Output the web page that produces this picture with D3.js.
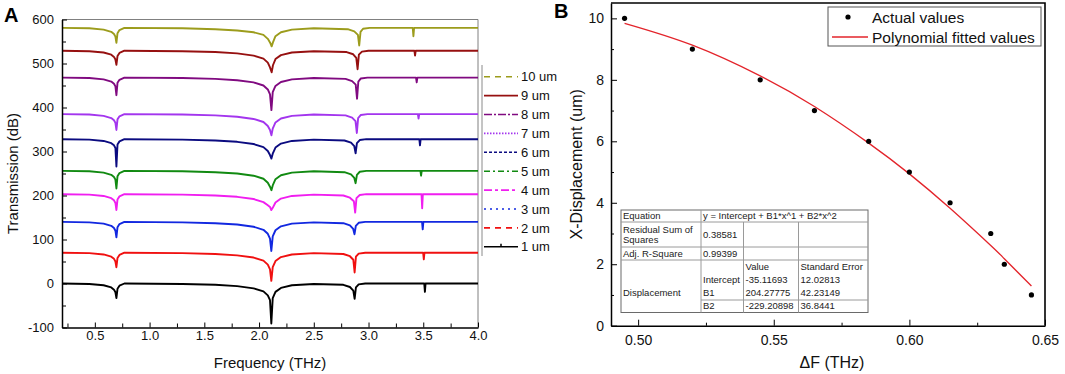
<!DOCTYPE html>
<html lang="en">
<head>
<meta charset="utf-8">
<title>Transmission spectra and X-displacement fit</title>
<script src="https://cdn.jsdelivr.net/npm/d3@7"></script>
<style>
  body { margin: 0; background: #fff; }
  svg { font-family: "Liberation Sans", Arial, sans-serif; }
</style>
</head>
<body>
<script>
// ---------- panel A data: transmission spectra, [frequency THz, dB] ----------
var um1 = [[0.20,0],[0.45,-1],[0.58,-4],[0.65,-9],[0.675,-14],[0.688,-20],[0.697,-33],[0.707,-12],[0.725,-5],[0.77,0],[1.30,-1],[1.60,-3],[1.80,-6],[1.95,-11],[2.04,-18],[2.08,-27],[2.10,-38],[2.112,-91],[2.125,-33],[2.15,-19],[2.20,-10],[2.30,-4],[2.50,-1],[2.77,-3],[2.83,-8],[2.861,-16],[2.873,-35],[2.885,-9],[2.91,-2],[2.97,0],[3.509,0],[3.515,-19],[3.521,0],[4.00,0]];
var um2 = [[0.20,70],[0.45,69],[0.58,66],[0.65,61],[0.675,56],[0.688,50],[0.697,37],[0.707,58],[0.725,65],[0.77,70],[1.30,69],[1.60,67],[1.80,64],[1.95,59],[2.04,52],[2.08,43],[2.10,32],[2.112,6],[2.125,37],[2.15,51],[2.20,60],[2.30,66],[2.50,69],[2.77,67],[2.83,62],[2.861,54],[2.873,25],[2.885,61],[2.91,68],[2.97,70],[3.499,70],[3.505,55],[3.511,70],[4.00,70]];
var um3 = [[0.20,140],[0.45,139],[0.58,136],[0.65,131],[0.675,126],[0.688,120],[0.697,105],[0.707,128],[0.725,135],[0.77,140],[1.30,139],[1.60,137],[1.80,134],[1.95,129],[2.04,122],[2.08,113],[2.10,102],[2.112,74],[2.125,107],[2.15,121],[2.20,130],[2.30,136],[2.50,139],[2.77,137],[2.83,132],[2.860,124],[2.872,112],[2.884,131],[2.91,138],[2.97,140],[3.489,140],[3.495,123],[3.501,140],[4.00,140]];
var um4 = [[0.20,203],[0.45,202],[0.58,199],[0.65,194],[0.675,189],[0.688,183],[0.697,167],[0.707,191],[0.725,198],[0.77,203],[1.30,202],[1.60,200],[1.80,197],[1.95,192],[2.04,185],[2.08,178],[2.10,174],[2.112,167],[2.125,172],[2.15,184],[2.20,193],[2.30,199],[2.50,202],[2.77,200],[2.83,195],[2.866,187],[2.878,161],[2.890,194],[2.92,201],[2.98,203],[3.484,203],[3.49,171],[3.496,203],[4.00,203]];
var um5 = [[0.20,256],[0.45,255],[0.58,252],[0.65,247],[0.675,242],[0.688,236],[0.697,216],[0.707,244],[0.725,251],[0.77,256],[1.30,255],[1.60,253],[1.80,250],[1.95,245],[2.04,238],[2.08,229],[2.10,220],[2.113,212],[2.125,223],[2.15,237],[2.20,246],[2.30,252],[2.50,255],[2.78,253],[2.84,248],[2.870,240],[2.882,228],[2.894,247],[2.92,254],[2.98,256],[3.474,256],[3.48,245],[3.486,256],[4.00,256]];
var um6 = [[0.20,328],[0.45,327],[0.58,324],[0.65,319],[0.675,314],[0.688,308],[0.697,266],[0.707,316],[0.725,323],[0.77,328],[1.30,327],[1.60,325],[1.80,322],[1.95,317],[2.04,310],[2.08,301],[2.10,292],[2.113,284],[2.125,295],[2.15,309],[2.20,318],[2.30,324],[2.50,327],[2.78,325],[2.84,320],[2.870,312],[2.882,296],[2.894,319],[2.92,326],[2.98,328],[3.464,328],[3.47,314],[3.476,328],[4.00,328]];
var um7 = [[0.20,385],[0.45,384],[0.58,381],[0.65,376],[0.675,371],[0.688,365],[0.697,349],[0.707,373],[0.725,380],[0.77,385],[1.30,384],[1.60,382],[1.80,379],[1.95,374],[2.04,367],[2.08,358],[2.10,349],[2.113,337],[2.125,352],[2.15,366],[2.20,375],[2.30,381],[2.50,384],[2.79,382],[2.85,377],[2.881,369],[2.893,342],[2.905,376],[2.93,383],[2.99,385],[3.451,385],[3.457,375],[3.463,385],[4.00,385]];
var um8 = [[0.20,468],[0.45,467],[0.58,464],[0.65,459],[0.675,454],[0.688,448],[0.697,428],[0.707,456],[0.725,463],[0.77,468],[1.30,467],[1.60,465],[1.80,462],[1.95,457],[2.04,450],[2.08,441],[2.10,430],[2.113,394],[2.125,435],[2.15,449],[2.20,458],[2.30,464],[2.50,467],[2.79,465],[2.85,460],[2.883,452],[2.895,420],[2.907,459],[2.93,466],[2.99,468],[3.434,468],[3.44,457],[3.446,468],[4.00,468]];
var um9 = [[0.20,529],[0.45,528],[0.58,525],[0.65,520],[0.675,515],[0.688,509],[0.697,497],[0.707,517],[0.725,524],[0.77,529],[1.30,528],[1.60,526],[1.80,523],[1.95,518],[2.04,511],[2.08,502],[2.10,491],[2.115,480],[2.127,496],[2.15,510],[2.20,519],[2.30,525],[2.50,528],[2.80,526],[2.86,521],[2.888,513],[2.900,487],[2.912,520],[2.94,527],[3.00,529],[3.419,529],[3.425,518],[3.431,529],[4.00,529]];
var um10 = [[0.20,581],[0.45,580],[0.58,577],[0.65,572],[0.675,567],[0.688,561],[0.697,547],[0.707,569],[0.725,576],[0.77,581],[1.30,580],[1.60,578],[1.80,575],[1.95,571],[2.04,565],[2.08,556],[2.10,548],[2.115,539],[2.127,548],[2.15,562],[2.20,571],[2.30,577],[2.50,580],[2.81,578],[2.87,573],[2.903,565],[2.915,541],[2.927,572],[2.95,579],[3.01,581],[3.404,581],[3.41,562],[3.416,581],[4.00,581]];

// legend order, top to bottom
var seriesNames = ["10 um", "9 um", "8 um", "7 um", "6 um", "5 um", "4 um", "3 um", "2 um", "1 um"];
var seriesData = [um10, um9, um8, um7, um6, um5, um4, um3, um2, um1];
var seriesColors = ["#9c9c1c", "#961010", "#800a80", "#a335ee", "#0b0b80", "#118a11", "#f01ef0", "#1228e0", "#f01010", "#000000"];
var seriesDash = ["6,5", null, "8,2,2,2", "1.5,1.5", "3,2", "6,3,2,3", "8,3,3,3", "2,4", "6,5", null];

var freqTicks = [0.5, 1.0, 1.5, 2.0, 2.5, 3.0, 3.5, 4.0];
var freqMinor = [0.25, 0.75, 1.25, 1.75, 2.25, 2.75, 3.25, 3.75];
var transTicks = [-100, 0, 100, 200, 300, 400, 500, 600];
var transMinor = [-50, 50, 150, 250, 350, 450, 550];

// ---------- panel B data ----------
var deltaF = [0.495, 0.520, 0.545, 0.565, 0.585, 0.600, 0.615, 0.630, 0.635, 0.645];
var xDisp = [10, 9, 8, 7, 6, 5, 4, 3, 2, 1];
var fittedDisp = [9.84, 9.13, 8.13, 7.13, 5.94, 4.94, 3.82, 2.61, 2.18, 1.29];

var dfTicks = [0.50, 0.55, 0.60, 0.65];
var dfMinor = [0.525, 0.575, 0.625];
var dispTicks = [0, 2, 4, 6, 8, 10];
var dispMinor = [1, 3, 5, 7, 9];

var fitTable = [
  ["Equation", "y = Intercept + B1*x^1 + B2*x^2", "", ""],
  ["Residual Sum of|Squares", "0.38581", "", ""],
  ["Adj. R-Square", "0.99399", "", ""],
  ["", "", "Value", "Standard Error"],
  ["", "Intercept", "-35.11693", "12.02813"],
  ["Displacement", "B1", "204.27775", "42.23149"],
  ["", "B2", "-229.20898", "36.8441"]
];

var W = 1065, H = 374;
var svg = d3.select("body").append("svg").attr("width", W).attr("height", H);

function styleAxis(g, fs) {
  g.attr("font-family", null).attr("font-size", fs);
  g.selectAll(".domain").attr("stroke", "#000").attr("stroke-width", 1.5);
  g.selectAll(".tick line").attr("stroke", "#000").attr("stroke-width", 1);
  g.selectAll(".tick text").attr("fill", "#111");
}

// ================= Panel A =================
var xA = d3.scaleLinear().domain([0.2, 4.0]).range([62, 478]);
var yA = d3.scaleLinear().domain([-100, 600]).range([327.5, 19.5]);

// top / right frame (grey)
svg.append("path")
  .attr("d", "M" + xA(0.2) + "," + yA(600) + "H" + xA(4.0) + "V" + yA(-100))
  .attr("fill", "none").attr("stroke", "#808080").attr("stroke-width", 1);

var lineA = d3.line().x(function(d) { return xA(d[0]); }).y(function(d) { return yA(d[1]); });

svg.append("g").selectAll("path")
  .data(seriesData)
  .enter().append("path")
  .attr("d", lineA)
  .attr("fill", "none")
  .attr("stroke", function(d, i) { return seriesColors[i]; })
  .attr("stroke-width", 1.9)
  .attr("stroke-linejoin", "round");

var gxA = svg.append("g").attr("transform", "translate(0," + yA(-100) + ")")
  .call(d3.axisBottom(xA).tickValues(freqTicks).tickFormat(d3.format(".1f")).tickSize(-5).tickSizeOuter(0).tickPadding(3));
styleAxis(gxA, 13);
var gxAm = svg.append("g").attr("transform", "translate(0," + yA(-100) + ")")
  .call(d3.axisBottom(xA).tickValues(freqMinor).tickFormat("").tickSize(-4).tickSizeOuter(0));
styleAxis(gxAm, 13);
gxAm.select(".domain").remove();

var gyA = svg.append("g").attr("transform", "translate(" + xA(0.2) + ",0)")
  .call(d3.axisLeft(yA).tickValues(transTicks).tickFormat(function(d) { return String(d); }).tickSize(-5).tickSizeOuter(0).tickPadding(8));
styleAxis(gyA, 13);
var gyAm = svg.append("g").attr("transform", "translate(" + xA(0.2) + ",0)")
  .call(d3.axisLeft(yA).tickValues(transMinor).tickFormat("").tickSize(-4).tickSizeOuter(0));
styleAxis(gyAm, 13);
gyAm.select(".domain").remove();

svg.append("text").attr("x", (xA(0.2) + xA(4.0)) / 2).attr("y", 368)
  .attr("text-anchor", "middle").attr("font-size", 15).attr("fill", "#111").text("Frequency (THz)");
svg.append("text").attr("transform", "translate(18," + (yA(-100) + yA(600)) / 2 + ") rotate(-90)")
  .attr("text-anchor", "middle").attr("font-size", 15).attr("fill", "#111").text("Transmission (dB)");
svg.append("text").attr("x", 4).attr("y", 22).attr("font-size", 20).attr("font-weight", "bold").text("A");

// legend A
svg.append("line").attr("x1", 482).attr("x2", 482).attr("y1", 65).attr("y2", 256)
  .attr("stroke", "#8a8a8a").attr("stroke-width", 1);
var legA = svg.append("g").selectAll("g").data(seriesNames).enter().append("g")
  .attr("transform", function(d, i) { return "translate(0," + (76.7 + i * 18.9) + ")"; });
legA.append("line").attr("x1", 484).attr("x2", 518).attr("y1", 0).attr("y2", 0)
  .attr("stroke", function(d, i) { return seriesColors[i]; })
  .attr("stroke-width", 1.6)
  .attr("stroke-dasharray", function(d, i) { return seriesDash[i]; });
legA.filter(function(d, i) { return i === seriesNames.length - 1; })
  .append("line").attr("x1", 501).attr("x2", 501).attr("y1", -3).attr("y2", 0)
  .attr("stroke", "#000").attr("stroke-width", 1.5);
legA.append("text").attr("x", 521).attr("y", 0).attr("dy", "0.36em")
  .attr("font-size", 13).attr("fill", "#111").text(function(d) { return d; });

// ================= Panel B =================
var xB = d3.scaleLinear().domain([0.49, 0.65]).range([611, 1045]);
var yB = d3.scaleLinear().domain([0, 10.5]).range([325.7, 3]);

svg.append("path")
  .attr("d", "M" + xB(0.49) + "," + yB(10.5) + "H" + xB(0.65) + "V" + yB(0))
  .attr("fill", "none").attr("stroke", "#000").attr("stroke-width", 1.6);

var gxB = svg.append("g").attr("transform", "translate(0," + yB(0) + ")")
  .call(d3.axisBottom(xB).tickValues(dfTicks).tickFormat(d3.format(".2f")).tickSize(-6).tickSizeOuter(0).tickPadding(9));
styleAxis(gxB, 14);
var gxBm = svg.append("g").attr("transform", "translate(0," + yB(0) + ")")
  .call(d3.axisBottom(xB).tickValues(dfMinor).tickFormat("").tickSize(-3).tickSizeOuter(0));
styleAxis(gxBm, 14);
gxBm.select(".domain").remove();

var gyB = svg.append("g").attr("transform", "translate(" + xB(0.49) + ",0)")
  .call(d3.axisLeft(yB).tickValues(dispTicks).tickFormat(function(d) { return String(d); }).tickSize(-6).tickSizeOuter(0).tickPadding(7));
styleAxis(gyB, 14);
var gyBm = svg.append("g").attr("transform", "translate(" + xB(0.49) + ",0)")
  .call(d3.axisLeft(yB).tickValues(dispMinor).tickFormat("").tickSize(-3).tickSizeOuter(0));
styleAxis(gyBm, 14);
gyBm.select(".domain").remove();

// fitted curve
var fitLine = d3.line().curve(d3.curveNatural)
  .x(function(d, i) { return xB(deltaF[i]); })
  .y(function(d) { return yB(d); });
svg.append("path").datum(fittedDisp).attr("d", fitLine)
  .attr("fill", "none").attr("stroke", "#e3242b").attr("stroke-width", 1.3);

// actual values
svg.append("g").selectAll("circle").data(xDisp).enter().append("circle")
  .attr("cx", function(d, i) { return xB(deltaF[i]); })
  .attr("cy", function(d) { return yB(d); })
  .attr("r", 2.6).attr("fill", "#000");

svg.append("text").attr("x", 832).attr("y", 367.5)
  .attr("text-anchor", "middle").attr("font-size", 16).attr("fill", "#111").text("\u0394F (THz)");
svg.append("text").attr("transform", "translate(582," + (yB(0) + yB(10.5)) / 2 + ") rotate(-90)")
  .attr("text-anchor", "middle").attr("font-size", 16).attr("fill", "#111").text("X-Displacement (um)");
svg.append("text").attr("x", 554).attr("y", 18).attr("font-size", 20).attr("font-weight", "bold").text("B");

// legend B
var legB = svg.append("g");
legB.append("rect").attr("x", 828).attr("y", 7).attr("width", 213).attr("height", 39)
  .attr("fill", "#fff").attr("stroke", "#555").attr("stroke-width", 1);
legB.append("circle").attr("cx", 848).attr("cy", 17).attr("r", 2.6).attr("fill", "#000");
legB.append("line").attr("x1", 832).attr("x2", 868).attr("y1", 37).attr("y2", 37)
  .attr("stroke", "#e3242b").attr("stroke-width", 1.3);
legB.append("text").attr("x", 872).attr("y", 17).attr("dy", "0.36em").attr("font-size", 15.5).attr("fill", "#111").text("Actual values");
legB.append("text").attr("x", 872).attr("y", 37).attr("dy", "0.36em").attr("font-size", 15.5).attr("fill", "#111").text("Polynomial fitted values");

// fit result table
var colX = [621, 701, 743.5, 798.5, 868];
var rowY = [210, 222, 247, 260, 273, 287, 300, 312.5];
var tbl = svg.append("g");
tbl.append("rect").attr("x", colX[0]).attr("y", rowY[0])
  .attr("width", colX[4] - colX[0]).attr("height", rowY[7] - rowY[0])
  .attr("fill", "#fff").attr("stroke", "#6a6a6a").attr("stroke-width", 1);
[[colX[0], colX[4], rowY[1]], [colX[0], colX[4], rowY[2]], [colX[0], colX[4], rowY[3]], [colX[1], colX[4], rowY[6]]]
  .forEach(function(h) {
    tbl.append("line").attr("x1", h[0]).attr("x2", h[1]).attr("y1", h[2]).attr("y2", h[2])
      .attr("stroke", "#9a9a9a").attr("stroke-width", 1);
  });
[[colX[1], rowY[0]], [colX[2], rowY[1]], [colX[3], rowY[1]]].forEach(function(v) {
  tbl.append("line").attr("x1", v[0]).attr("x2", v[0]).attr("y1", v[1]).attr("y2", rowY[7])
    .attr("stroke", "#9a9a9a").attr("stroke-width", 1);
});
var rowCenter = [216, 234.5, 253.5, 266.5, 280, 293, 306];
fitTable.forEach(function(row, r) {
  row.forEach(function(cell, c) {
    if (!cell) return;
    var parts = cell.split("|");
    parts.forEach(function(p, k) {
      var yy = parts.length > 1 ? rowCenter[r] - 5.2 + k * 10.4 : rowCenter[r];
      tbl.append("text").attr("x", colX[c] + 2).attr("y", yy).attr("dy", "0.36em")
        .attr("font-size", 9.5).attr("fill", "#222").text(p);
    });
  });
});
</script>
</body>
</html>
